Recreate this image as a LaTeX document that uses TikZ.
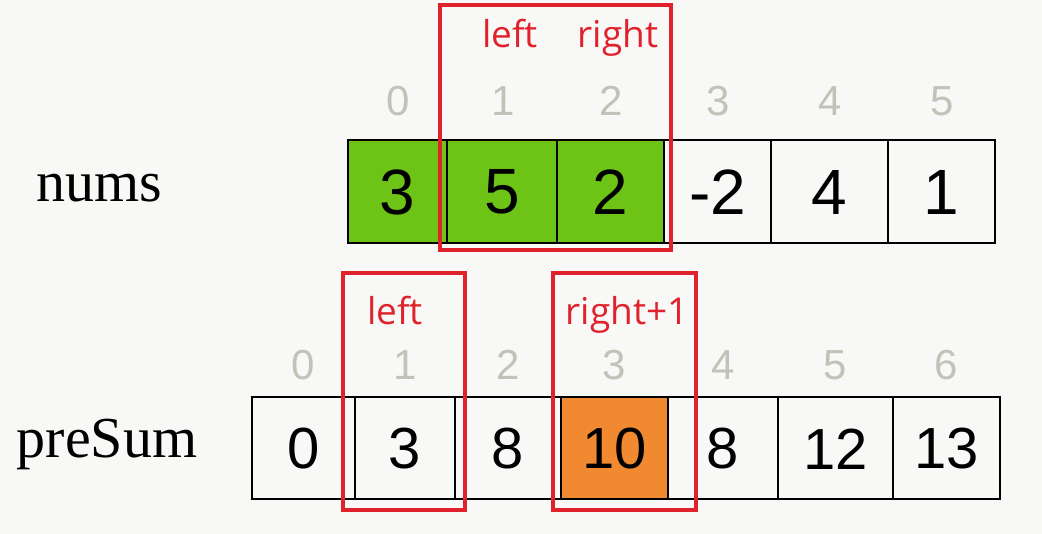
\documentclass[tikz,border=0pt]{standalone}
\usepackage{fontspec}
\usepackage{tikz}
\setmainfont{Liberation Serif}
\newfontfamily\tagfont{Open Sans}
\newfontfamily\digitfont{Liberation Sans}
\definecolor{paper}{HTML}{F8F8F6}
\definecolor{boxred}{HTML}{E0222C}
\definecolor{cellgreen}{HTML}{6DC416}
\definecolor{cellorange}{HTML}{F0892F}
\definecolor{idxgray}{HTML}{C2C2B8}

\begin{document}
\begin{tikzpicture}[x=1pt,y=1pt,yscale=-1,xscale=1,
  cellbox/.style={draw=black,line width=2.6pt},
  val/.style={font=\digitfont\fontsize{64}{64}\selectfont,inner sep=0pt},
  idx/.style={text=idxgray,font=\digitfont\fontsize{42}{42}\selectfont,inner sep=0pt},
  tag/.style={text=boxred,font=\tagfont\fontsize{37}{37}\selectfont,inner sep=0pt,anchor=base},
  rowname/.style={font=\fontsize{58}{58}\selectfont,inner sep=0pt,anchor=base},
  frame/.style={draw=boxred,line width=3.6pt}]
%背景
\fill[paper] (0,0) rectangle (1042,534);
%nums 数组
\foreach \xa/\xb/\v/\c [count=\i from 0] in
  {348/447/3/cellgreen, 447/557/5/cellgreen, 557/664/2/cellgreen,
   664/771/-2/paper, 771/888/4/paper, 888/995/1/paper}
{
  \draw[cellbox,fill=\c] (\xa,140) rectangle (\xb,243);
  \node[val] (n\i) at ({(\xa+\xb)/2},192) {\v};
  \node[idx] (ni\i) at ({(\xa+\xb)/2+1},101) {\i};
}
%preSum 数组
\foreach \xa/\xb/\v/\c [count=\i from 0] in
  {252/355/0/paper, 355/455/3/paper, 455/561/8/paper, 561/668/10/cellorange,
   668/778/8/paper, 778/893/12/paper, 893/1000/13/paper}
{
  \draw[cellbox,fill=\c] (\xa,397) rectangle (\xb,499);
  \node[val,font=\digitfont\fontsize{58}{58}\selectfont] (p\i) at ({(\xa+\xb)/2},449) {\v};
  \node[idx] (pi\i) at ({(\xa+\xb)/2},365) {\i};
}
%Text
\node[rowname] (numsname) at (99,202) {nums};
\node[rowname] (presumname) at (107,457) {preSum};
%红框
\draw[frame] (440,5) rectangle (671,250);
\draw[frame] (343,273) rectangle (465,510);
\draw[frame] (553,273) rectangle (696,510);
\node[tag] (lefttop) at (510,48) {left};
\node[tag] (righttop) at (618,48) {right};
\node[tag] (leftbot) at (395,325) {left};
\node[tag] (rightbot) at (627,325) {right+1};
\end{tikzpicture}
\end{document}
